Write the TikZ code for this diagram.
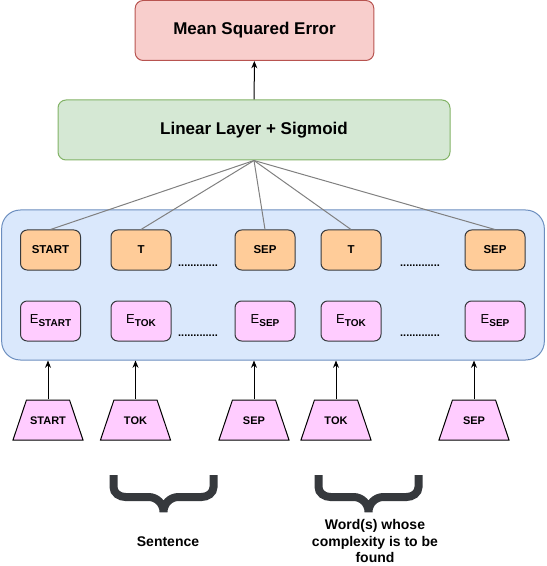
\documentclass[tikz,border=0pt]{standalone}
\usepackage{fontspec}
\setmainfont{Liberation Sans}
\usetikzlibrary{positioning, arrows, arrows.meta, shapes.geometric}
\definecolor{mseFill}{HTML}{F8CECC}
\definecolor{mseLine}{HTML}{B85450}
\definecolor{linFill}{HTML}{D5E8D4}
\definecolor{linLine}{HTML}{82B366}
\definecolor{encFill}{HTML}{DAE8FC}
\definecolor{encLine}{HTML}{6C8EBF}
\definecolor{tokFill}{HTML}{FFCC99}
\definecolor{embFill}{HTML}{FFCCFF}
\definecolor{boxLine}{HTML}{36393D}
\def\small#1{\fontsize{#1}{#1}\selectfont}
\def\sub#1{\raisebox{-2.2pt}{\small{7.5}\bfseries #1}}
\newcommand{\downBrace}[1]{%
  \draw[brace] (#1-50,475) -- (#1-50,487) to[out=-90,in=180] (#1-38,497)
    -- (#1-15,497) to[out=0,in=90] (#1,512) to[out=90,in=180] (#1+15,497)
    -- (#1+38,497) to[out=0,in=-90] (#1+50,487) -- (#1+50,475);}

\begin{document}
\begin{tikzpicture}[x=0.75pt, y=-0.75pt, node distance=22.5pt, >={Stealth[length=5.5pt, width=4.5pt]}, line width=0.75pt,
		bigbox/.style={rectangle, rounded corners=6pt, minimum height=45pt, font=\small{12.75}\bfseries},
		box/.style={rectangle, rounded corners=5pt, draw=boxLine, minimum width=45pt, minimum height=30pt, inner sep=0pt},
		tok/.style={box, fill=tokFill, font=\small{8.6}\bfseries},
		emb/.style={box, fill=embFill, font=\small{9.75}},
		inp/.style={trapezium, trapezium angle=71.4, trapezium stretches body, draw, fill=embFill,
			minimum width=52.5pt, inner xsep=0pt, inner ysep=12pt, text height=6pt, text depth=0pt,
			font=\small{8.25}\bfseries},
		dots/.style={font=\small{8.25}\bfseries, anchor=base, inner sep=0pt},
		feed/.style={draw=gray},
		brace/.style={draw=boxLine, line width=6pt},
		lbl/.style={font=\fontsize{10.5}{12.3}\selectfont\bfseries, align=center}]
		\useasboundingbox (0,0) rectangle (546,566);
		% loss and head
		\node[bigbox, draw=mseLine, fill=mseFill, minimum width=179pt] (mse) at (254.5,30.5) {Mean Squared Error};
		\node[bigbox, draw=linLine, fill=linFill, minimum width=294pt] (lin) at (254,130) {Linear Layer + Sigmoid};
		\draw[->] (lin) -- (mse);
		% encoder block
		\node[rectangle, rounded corners=14pt, draw=encLine, fill=encFill, minimum width=407pt, minimum height=112.5pt] (enc) at (273,285) {};
		\node[tok] (tStart) at (50.5,250) {START};
		\node[tok] (tTok) at (141,250) {T};
		\node[tok] (tSep) at (265,250) {SEP};
		\node[tok] (tTok2) at (351,250) {T};
		\node[tok] (tSep2) at (495,250) {SEP};
		\node[emb, below = of tStart] (eStart) {E\sub{START}};
		\node[emb, below = of tTok] (eTok) {E\sub{TOK}};
		\node[emb, below = of tSep] (eSep) {E\sub{SEP}};
		\node[emb, below = of tTok2] (eTok2) {E\sub{TOK}};
		\node[emb, below = of tSep2] (eSep2) {E\sub{SEP}};
		\node[dots] (dotsA) at (198,266) {.............};
		\node[dots] (dotsB) at (420,266) {.............};
		\node[dots] (dotsC) at (198,336) {.............};
		\node[dots] (dotsD) at (420,336) {.............};
		\foreach \t in {tStart, tTok, tSep, tTok2, tSep2}
			\draw[feed] (lin.south) -- (\t.north);
		% inputs
		\node[inp] (iStart) at (48,420) {START};
		\node[inp] (iTok) at (135.5,420) {TOK};
		\node[inp] (iSep) at (254,420) {SEP};
		\node[inp] (iTok2) at (336,420) {TOK};
		\node[inp] (iSep2) at (474,420) {SEP};
		\foreach \i in {iStart, iTok, iSep, iTok2, iSep2}
			\draw[->] (\i.north) -- (\i.north |- enc.south);
		% braces
		\downBrace{163.5}
		\downBrace{368.5}
		\node[lbl] (sent) at (168,542) {Sentence};
		\node[lbl] (word) at (375,541) {Word(s) whose\\complexity is to be\\found};
	\end{tikzpicture}
\end{document}
